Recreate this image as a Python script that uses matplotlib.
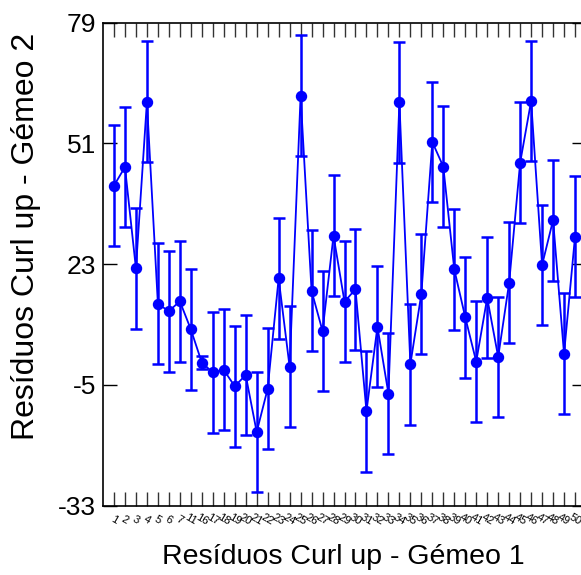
import matplotlib
matplotlib.use("Agg")
import matplotlib.pyplot as plt
import numpy as np

plt.rcParams['font.family'] = ['Liberation Sans', 'DejaVu Sans']

# Pair identifiers shown along the horizontal axis
pair_ids = ['1', '2', '3', '4', '5', '6', '7', '11'] + [str(i) for i in range(16, 51)]

# Residual means and error half-widths
residuals = [41.2, 45.5, 22.0, 60.6, 13.8, 12.1, 14.4, 7.9, 0.2, -2.1,
             -1.5, -5.3, -2.7, -15.9, -5.9, 19.7, -0.8, 62.0, 16.8, 7.5,
             29.6, 14.3, 17.2, -11.1, 8.5, -7.0, 60.5, -0.2, 16.1, 51.3,
             45.6, 21.8, 10.7, 0.4, 15.2, 1.5, 18.7, 46.5, 60.8, 22.8,
             33.2, 2.2, 29.4]
errors = [14.0] * len(residuals)
errors[8] = 1.6

yticks = [-33, -5, 23, 51, 79]

fig = plt.figure(figsize=(5.81, 5.75), dpi=100)
ax = fig.add_axes([103 / 581, 1 - 505.8 / 575, (586 - 103) / 581, (505.8 - 22.5) / 575])

x = np.arange(len(residuals))
blue = '#0000ff'
ax.errorbar(x, residuals, yerr=errors, color=blue, lw=1.3, elinewidth=1.8,
            capsize=4.6, capthick=1.8, marker='o', markersize=7.2,
            markeredgecolor=blue, markerfacecolor=blue)

ax.set_xlim(-1, len(residuals))
ax.set_ylim(-33, 79)
ax.set_yticks(yticks)
ax.set_yticklabels([str(t) for t in yticks], fontsize=19)
ax.set_xticks(x)
ax.set_xticklabels(pair_ids, fontsize=8, rotation=-30, rotation_mode='anchor',
                   ha='center', va='center')
ax.tick_params(axis='x', direction='in', length=10, width=1, top=True, bottom=True,
               pad=10, colors='#333333', labelcolor='black')
ax.tick_params(axis='y', direction='in', length=10, width=1, left=True, right=True, pad=5)
for s in ax.spines.values():
    s.set_linewidth(1.2)

ax.set_xlabel('Resíduos Curl up - Gémeo 1', fontsize=20.5)
ax.set_ylabel('Resíduos Curl up - Gémeo 2', fontsize=23)
ax.xaxis.set_label_coords((343 - 103) / (586 - 103), -(557 - 505.8) / (505.8 - 22.5))
ax.yaxis.set_label_coords(-(103 - 26) / (586 - 103), (505.8 - 236) / (505.8 - 22.5))
ax.xaxis.label.set_va('center')
ax.yaxis.label.set_va('center')

fig.savefig('out.png', dpi=100)
